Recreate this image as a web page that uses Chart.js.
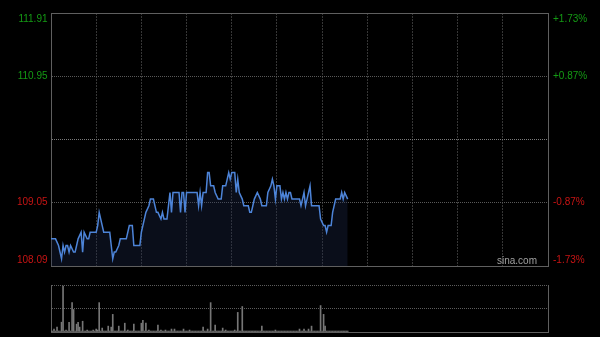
<!DOCTYPE html>
<html>
<head>
<meta charset="utf-8">
<script src="https://cdn.jsdelivr.net/npm/chart.js@4.4.0/dist/chart.umd.min.js"></script>
<style>
  html, body { margin: 0; padding: 0; background: #000; }
  #wrap { position: relative; width: 600px; height: 337px; overflow: hidden; }
  canvas { position: absolute; left: 0; }
</style>
</head>
<body>
<div id="wrap">
  <canvas id="priceChart" width="600" height="275" style="top:0px"></canvas>
  <canvas id="volChart" width="600" height="57" style="top:280px"></canvas>
</div>
<script>
// minutes since the open (HK session, 330 trading minutes in the day)
const times = [0, 3, 5, 7, 8, 9, 10, 11, 12, 13, 15, 16, 17, 18, 20, 21, 22, 24, 25, 26,
  30, 31, 32, 34, 35, 39, 40, 41, 42, 43, 45, 46, 50, 52, 54, 55, 59, 60, 61, 63,
  65, 66, 68, 70, 71, 73, 74, 75, 77, 78, 79, 80, 81, 85, 86, 87, 88, 89, 90, 97,
  98, 99, 100, 101, 103, 104, 105, 106, 108, 109, 111, 113, 114, 116, 118, 119, 120, 122, 123, 124,
  125, 127, 128, 131, 132, 133, 134, 135, 137, 139, 140, 143, 144, 146, 147, 148, 149, 150, 152, 153,
  154, 155, 156, 157, 158, 159, 160, 165, 166, 167, 168, 169, 170, 172, 173, 178, 179, 181, 182, 183,
  184, 186, 187, 189, 192, 193, 194, 195, 197];
const prices = [108.5, 108.5, 108.4, 108.2, 108.4, 108.3, 108.4, 108.4, 108.3, 108.4, 108.3, 108.3, 108.4, 108.5, 108.6, 108.3, 108.6, 108.5, 108.5, 108.6,
  108.6, 108.7, 108.9, 108.7, 108.6, 108.6, 108.4, 108.2, 108.3, 108.3, 108.4, 108.5, 108.5, 108.7, 108.7, 108.4, 108.4, 108.6, 108.7, 108.9,
  109.0, 109.1, 109.1, 108.9, 108.9, 108.8, 108.9, 108.8, 108.8, 109.0, 109.2, 108.9, 109.2, 109.2, 108.9, 109.2, 109.2, 108.9, 109.2, 109.2,
  109.0, 109.2, 109.0, 109.2, 109.2, 109.5, 109.5, 109.3, 109.3, 109.2, 109.1, 109.1, 109.3, 109.3, 109.5, 109.4, 109.5, 109.5, 109.2, 109.4,
  109.2, 109.1, 109.0, 109.0, 108.9, 108.9, 109.0, 109.1, 109.2, 109.1, 109.0, 109.0, 109.2, 109.3, 109.4, 109.3, 109.1, 109.3, 109.3, 109.1,
  109.2, 109.1, 109.2, 109.1, 109.2, 109.2, 109.1, 109.1, 109.0, 109.1, 109.2, 109.0, 109.1, 109.3, 109.0, 109.0, 108.8, 108.7, 108.7, 108.6,
  108.7, 108.7, 108.9, 109.1, 109.1, 109.2, 109.1, 109.2, 109.1];

// volume per minute (thousand shares), minute 0 .. 197
const volumes = [
  1, 1, 3, 1, 5, 1, 1, 10, 47, 1,
  2, 1, 10, 1, 30, 23, 1, 8, 10, 5,
  1, 11, 1, 1, 2, 1, 1, 1, 2, 1,
  3, 2, 30, 1, 4, 1, 1, 1, 6, 1,
  5, 18, 1, 1, 1, 6, 1, 1, 1, 9,
  1, 2, 1, 1, 1, 8, 1, 1, 1, 1,
  9, 12, 1, 9, 1, 2, 1, 1, 1, 1,
  1, 7, 1, 2, 1, 1, 2, 1, 1, 1,
  3, 1, 3, 1, 1, 1, 1, 1, 3, 1,
  1, 1, 2, 1, 1, 1, 1, 1, 1, 1,
  1, 5, 1, 1, 3, 1, 30, 1, 1, 7,
  1, 1, 1, 1, 4, 1, 2, 1, 1, 1,
  1, 1, 2, 1, 20, 1, 1, 26, 1, 1,
  1, 1, 1, 1, 1, 1, 1, 1, 1, 1,
  6, 1, 1, 1, 1, 1, 1, 1, 1, 2,
  1, 1, 1, 1, 1, 1, 1, 1, 1, 1,
  1, 1, 1, 1, 1, 3, 1, 1, 3, 1,
  1, 3, 1, 6, 1, 1, 1, 1, 1, 27,
  1, 18, 6, 1, 1, 1, 1, 1, 1, 1,
  1, 1, 1, 1, 1, 1, 1, 1];

const prevClose = 110.00;
const priceTicks = [108.09, 109.05, 110.00, 110.95, 111.91];
const priceLabels = ['108.09', '109.05', '', '110.95', '111.91'];
const pctLabels = ['-1.73%', '-0.87%', '', '+0.87%', '+1.73%'];
const gridTimes = [0, 30, 60, 90, 120, 150, 180, 210, 240, 270, 300, 330];
const dayMinutes = 330;
const volMax = 48;

Chart.defaults.font.family = '"Liberation Sans", Arial, sans-serif';
Chart.defaults.font.size = 10;

const frameColor = '#5f5f5f';

// first/last labels are pushed inside the frame
function edgeLabel(text, i, n) {
  if (i === 0) return [text, ''];
  if (i === n - 1) return ['', text];
  return text;
}
function tickColor(ctx) {
  const v = priceTicks[ctx.index];
  if (v > prevClose) return '#149a14';
  if (v < prevClose) return '#c81414';
  return '#888';
}
function fixWidth(w) {
  return function (scale) {
    scale.width = w;
    scale.paddingTop = 0; scale.paddingBottom = 0;
    scale.paddingLeft = 0; scale.paddingRight = 0;
  };
}
function flatAxis(scale) {
  scale.height = 0;
  scale.paddingLeft = 0; scale.paddingRight = 0;
  scale.paddingTop = 0; scale.paddingBottom = 0;
}

const watermark = {
  id: 'watermark',
  beforeDatasetsDraw(chart) {
    const { ctx, chartArea } = chart;
    ctx.save();
    ctx.font = '10px "Liberation Sans", Arial, sans-serif';
    ctx.fillStyle = '#a0a0a0';
    ctx.textAlign = 'right';
    ctx.textBaseline = 'alphabetic';
    ctx.fillText('sina.com', chartArea.right - 11, chartArea.bottom - 2);
    ctx.restore();
  }
};

const pricePoints = times.map((t, i) => ({ x: t, y: prices[i] }));

new Chart(document.getElementById('priceChart'), {
  type: 'line',
  data: {
    datasets: [{
      data: pricePoints,
      borderColor: '#4d84d8',
      borderWidth: 1.5,
      backgroundColor: 'rgba(30,45,80,0.32)',
      fill: 'start',
      pointRadius: 0,
      tension: 0
    }]
  },
  options: {
    responsive: false,
    animation: false,
    devicePixelRatio: 1,
    layout: { padding: { top: 13, bottom: 9, left: 0, right: 0 } },
    plugins: { legend: { display: false }, tooltip: { enabled: false } },
    scales: {
      x: {
        type: 'linear', position: 'bottom', min: 0, max: dayMinutes,
        afterBuildTicks: s => { s.ticks = gridTimes.map(v => ({ value: v })); },
        afterFit: flatAxis,
        ticks: { display: false },
        grid: {
          drawTicks: false,
          color: c => (c.index === 0 || c.index === gridTimes.length - 1) ? 'rgba(0,0,0,0)' : '#363636',
          lineWidth: 1
        },
        border: { display: true, color: frameColor, width: 1, dash: [2, 1] }
      },
      xTop: {
        type: 'linear', position: 'top', min: 0, max: dayMinutes,
        afterFit: flatAxis,
        ticks: { display: false },
        grid: { display: false, drawTicks: false },
        border: { display: true, color: frameColor, width: 1 }
      },
      y: {
        position: 'left', min: priceTicks[0], max: priceTicks[priceTicks.length - 1],
        afterBuildTicks: s => { s.ticks = priceTicks.map(v => ({ value: v })); },
        afterFit: fixWidth(51),
        ticks: {
          padding: 3.5,
          color: tickColor,
          callback: (v, i) => edgeLabel(priceLabels[i], i, priceLabels.length)
        },
        grid: {
          drawTicks: false,
          color: c => {
            if (c.index === 0 || c.index === priceTicks.length - 1) return 'rgba(0,0,0,0)';
            return c.index === 2 ? '#7a7a7a' : '#595959';
          }
        },
        border: { display: true, color: frameColor, width: 1, dash: [1, 1] }
      },
      y2: {
        position: 'right', min: priceTicks[0], max: priceTicks[priceTicks.length - 1],
        afterBuildTicks: s => { s.ticks = priceTicks.map(v => ({ value: v })); },
        afterFit: fixWidth(52),
        ticks: {
          padding: 5,
          color: tickColor,
          callback: (v, i) => edgeLabel(pctLabels[i], i, pctLabels.length)
        },
        grid: { display: false, drawTicks: false },
        border: { display: true, color: frameColor, width: 1 }
      }
    }
  },
  plugins: [watermark]
});

const volPoints = volumes.map((v, i) => ({ x: i, y: v }));

new Chart(document.getElementById('volChart'), {
  type: 'bar',
  data: {
    datasets: [{
      data: volPoints,
      backgroundColor: '#767676',
      barThickness: 1,
      borderWidth: 0
    }]
  },
  options: {
    responsive: false,
    animation: false,
    devicePixelRatio: 1,
    layout: { padding: { top: 5, bottom: 5, left: 0, right: 0 } },
    plugins: { legend: { display: false }, tooltip: { enabled: false } },
    scales: {
      x: {
        type: 'linear', position: 'bottom', min: 0, max: dayMinutes, offset: false,
        afterFit: flatAxis,
        ticks: { display: false },
        grid: { display: false, drawTicks: false, offset: false },
        border: { display: true, color: frameColor, width: 1 }
      },
      y: {
        position: 'left', min: 0, max: volMax,
        afterBuildTicks: s => { s.ticks = [0, volMax / 2, volMax].map(v => ({ value: v })); },
        afterFit: fixWidth(51),
        ticks: { display: false },
        grid: {
          drawTicks: false,
          color: c => c.index === 0 ? 'rgba(0,0,0,0)' : '#5c5c5c'
        },
        border: { display: true, color: frameColor, width: 1, dash: [1, 1] }
      },
      y2: {
        position: 'right', min: 0, max: volMax,
        afterFit: fixWidth(52),
        ticks: { display: false },
        grid: { display: false, drawTicks: false },
        border: { display: true, color: frameColor, width: 1 }
      }
    }
  }
});
</script>
</body>
</html>
